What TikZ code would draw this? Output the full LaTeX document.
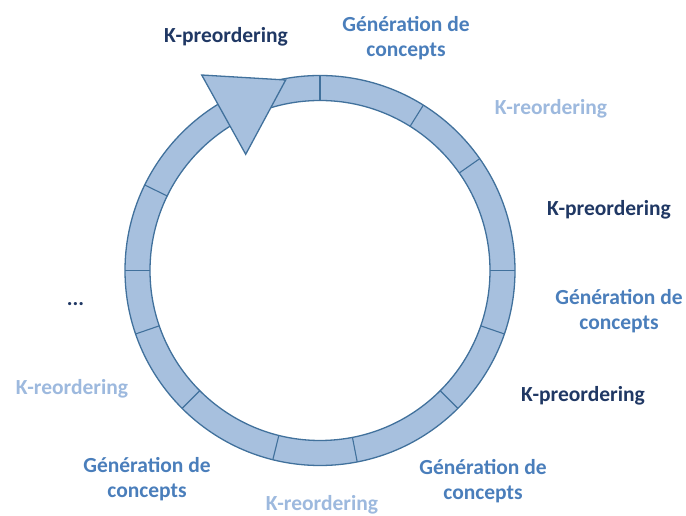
\documentclass[tikz,border=0pt]{standalone}
\usepackage{fontspec}
\setmainfont{Carlito}
\usepackage{xcolor}
\usetikzlibrary{positioning,calc}

\definecolor{ringfill}{RGB}{167,192,222}
\definecolor{ringline}{RGB}{65,113,156}
\definecolor{darkstep}{RGB}{32,56,100}
\definecolor{genstep}{RGB}{74,126,187}
\definecolor{lightstep}{RGB}{157,185,222}

\begin{document}
\begin{tikzpicture}[
  x=1pt, y=1pt,
  ring/.style={fill=ringfill, draw=ringline, line width=1.3pt, even odd rule},
  divider/.style={draw=ringline, line width=1.1pt},
  head/.style={fill=ringfill, draw=ringline, line width=1.3pt, line join=miter},
  lbl/.style={font=\fontsize{21.5}{25}\selectfont\bfseries, align=center, inner sep=0pt},
  kpre/.style={lbl, text=darkstep},
  kre/.style={lbl, text=lightstep},
  gen/.style={lbl, text=genstep},
]
  \useasboundingbox (0,0) rectangle (686,516);

  % Ring centre and radii
  \def\cx{320}
  \def\cy{245.5}
  \def\rout{195}
  \def\rin{170}
  \coordinate (c) at (\cx,\cy);

  % Ring
  \path[ring] (c) circle (\rout) (c) circle (\rin);

  % Segment dividers
  \foreach \a in {0,35,58,90,154,180,199,225,256,281,315,341}
    \draw[divider] ($(c)+(\a:\rin)$) -- ($(c)+(\a:\rout)$);

  % Arrow head on top of the ring
  \coordinate (hl) at (201.7,441);
  \coordinate (hr) at (285.7,436);
  \coordinate (ht) at (245.7,361.7);
  \draw[head] (hl) -- (hr) -- (ht) -- cycle;

  % Step labels, clockwise from the arrow
  \node[kpre] (kpre1) at (226,479) {K-preordering};
  \node[gen]  (gen1)  at (406,477.5) {Génération de\\concepts};
  \node[kre]  (kre1)  at (551,407) {K-reordering};
  \node[kpre] (kpre2) at (609,306) {K-preordering};
  \node[gen]  (gen2)  at (619,205) {Génération de\\concepts};
  \node[kpre] (kpre3) at (583,120) {K-preordering};
  \node[gen]  (gen3)  at (483,35) {Génération de\\concepts};
  \node[kre]  (kre2)  at (322,11) {K-reordering};
  \node[gen]  (gen4)  at (147,37) {Génération de\\concepts};
  \node[kre]  (kre3)  at (72,127) {K-reordering};
  \node[kpre, anchor=base] (more) at (75.5,210) {...};

\end{tikzpicture}
\end{document}
